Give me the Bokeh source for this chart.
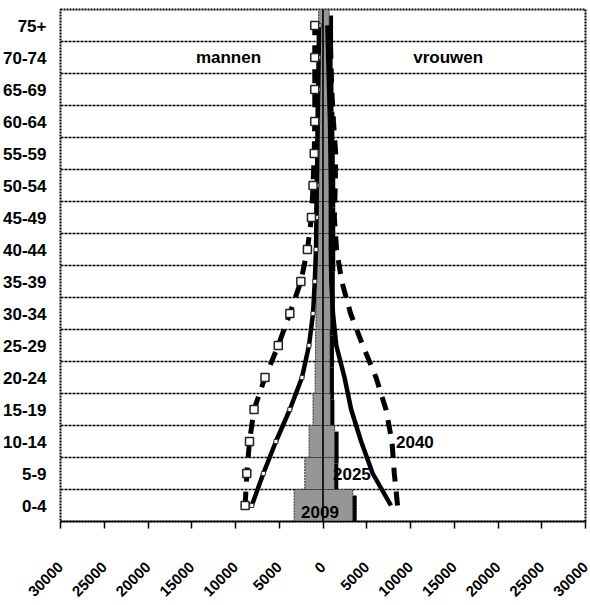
from bokeh.plotting import figure
from bokeh.models import Range1d, FixedTicker, CustomJSTickFormatter, Span, Label, ColumnDataSource
from bokeh.embed import file_html
from bokeh.resources import INLINE
import math

# ---- data ----
ages = ["0-4", "5-9", "10-14", "15-19", "20-24", "25-29", "30-34", "35-39",
        "40-44", "45-49", "50-54", "55-59", "60-64", "65-69", "70-74", "75+"]
men_2009 = [3300, 2080, 1590, 1140, 900, 850, 800, 850, 900, 950, 900, 850, 800, 700, 600, 500]
women_2009 = [3400, 1300, 1330, 850, 800, 800, 850, 900, 950, 950, 950, 900, 850, 750, 650, 700]
men_2025 = [8140, 6820, 5380, 3790, 2400, 1600, 1140, 940, 800, 750, 700, 650, 600, 550, 500, 450]
women_2025 = [7770, 5680, 4360, 3220, 2460, 1520, 1140, 950, 900, 900, 900, 850, 800, 700, 600, 500]
men_2040 = [8900, 8710, 8400, 7880, 6630, 5110, 3790, 2530, 1780, 1320, 1140, 1000, 940, 940, 940, 940]
women_2040 = [8520, 8150, 7880, 7200, 6060, 4550, 3150, 2150, 1550, 1300, 1400, 1450, 1200, 1000, 900, 800]
x_ticks = [-30000, -25000, -20000, -15000, -10000, -5000, 0, 5000, 10000, 15000, 20000, 25000, 30000]

FONT = "'Liberation Sans', Arial, sans-serif"

n = len(ages)
yc = [i + 0.5 for i in range(n)]

p = figure(width=590, height=605, output_backend="svg", toolbar_location=None,
           x_range=Range1d(-30000, 30000), y_range=Range1d(0, n),
           min_border_left=59, min_border_right=5, min_border_top=9, min_border_bottom=84)

p.background_fill_color = "white"
p.border_fill_color = "white"
p.outline_line_color = "black"
p.outline_line_width = 2
p.outline_line_dash = "2 1"

# grid
p.xgrid.visible = False
p.ygrid.ticker = FixedTicker(ticks=list(range(n + 1)))
p.ygrid.grid_line_color = "black"
p.ygrid.grid_line_width = 1.5
p.ygrid.grid_line_dash = "3 1"

# y axis
p.yaxis.ticker = FixedTicker(ticks=yc)
p.yaxis.major_label_overrides = {y: a for y, a in zip(yc, ages)}
p.yaxis.axis_line_color = None
p.yaxis.major_tick_line_color = None
p.yaxis.major_tick_out = 0
p.yaxis.major_tick_in = 0
p.yaxis.minor_tick_line_color = None
p.yaxis.minor_tick_out = 0
p.yaxis.major_label_text_font = FONT
p.yaxis.major_label_text_font_style = "bold"
p.yaxis.major_label_text_font_size = "17px"
p.yaxis.major_label_text_color = "black"
p.yaxis.major_label_standoff = 14

# x axis
p.xaxis.ticker = FixedTicker(ticks=x_ticks)
p.xaxis.formatter = CustomJSTickFormatter(code="return Math.abs(tick).toString();")
p.xaxis.axis_line_color = "black"
p.xaxis.axis_line_width = 1.5
p.xaxis.major_tick_line_color = "black"
p.xaxis.major_tick_line_width = 1.5
p.xaxis.major_tick_out = 7
p.xaxis.major_tick_in = 0
p.xaxis.minor_tick_line_color = None
p.xaxis.minor_tick_out = 0
p.xaxis.major_label_orientation = math.pi / 4
p.xaxis.major_label_standoff = 36
p.xaxis.major_label_text_font = FONT
p.xaxis.major_label_text_font_style = "bold"
p.xaxis.major_label_text_font_size = "15px"
p.xaxis.major_label_text_color = "black"

src = ColumnDataSource(dict(
    y=yc,
    men_left=[-v for v in men_2009],
    women_right=women_2009,
    sh_y=[v - 0.19 for v in yc],
    sh_men_left=[-v + 450 for v in men_2009],
    sh_women_right=[v + 450 for v in women_2009],
    m25=[-v for v in men_2025], w25=women_2025,
    m40=[-v for v in men_2040], w40=women_2040,
))

# shadows
p.hbar(y="sh_y", left="sh_men_left", right=450, height=1, source=src,
       fill_color="black", line_color=None)
p.hbar(y="sh_y", left=0, right="sh_women_right", height=1, source=src,
       fill_color="black", line_color=None)
# 2009 bars
p.hbar(y="y", left="men_left", right=0, height=1, source=src,
       fill_color="#969696", line_color="#333333", line_width=1, line_dash="2 1")
p.hbar(y="y", left=0, right="women_right", height=1, source=src,
       fill_color="#969696", line_color="#333333", line_width=1, line_dash="2 1")

p.add_layout(Span(location=0, dimension="height", line_color="black", line_width=1.5))

# 2025 solid
p.line(x="m25", y="y", source=src, line_color="black", line_width=4.5)
p.line(x="w25", y="y", source=src, line_color="black", line_width=4.5)
p.scatter(x="m25", y="y", source=src, marker="square", size=4,
          fill_color="white", line_color="#333333", line_width=1)
# 2040 dashed
p.line(x="m40", y="y", source=src, line_color="black", line_width=5, line_dash="14 10")
p.line(x="w40", y="y", source=src, line_color="black", line_width=5, line_dash="14 10")
p.scatter(x="m40", y="y", source=src, marker="square", size=8,
          fill_color="white", line_color="#222222", line_width=1.5)

def lab(txt, x, y, size="17px"):
    p.add_layout(Label(x=x, y=y, text=txt, text_font=FONT, text_font_style="bold",
                       text_font_size=size, text_color="black",
                       text_align="center", text_baseline="middle"))

lab("mannen", -10800, 14.5)
lab("vrouwen", 14300, 14.5)
lab("2040", 10500, 2.5)
lab("2025", 3300, 1.5)
lab("2009", -350, 0.3)

open("out.html", "w").write(file_html(p, INLINE))
